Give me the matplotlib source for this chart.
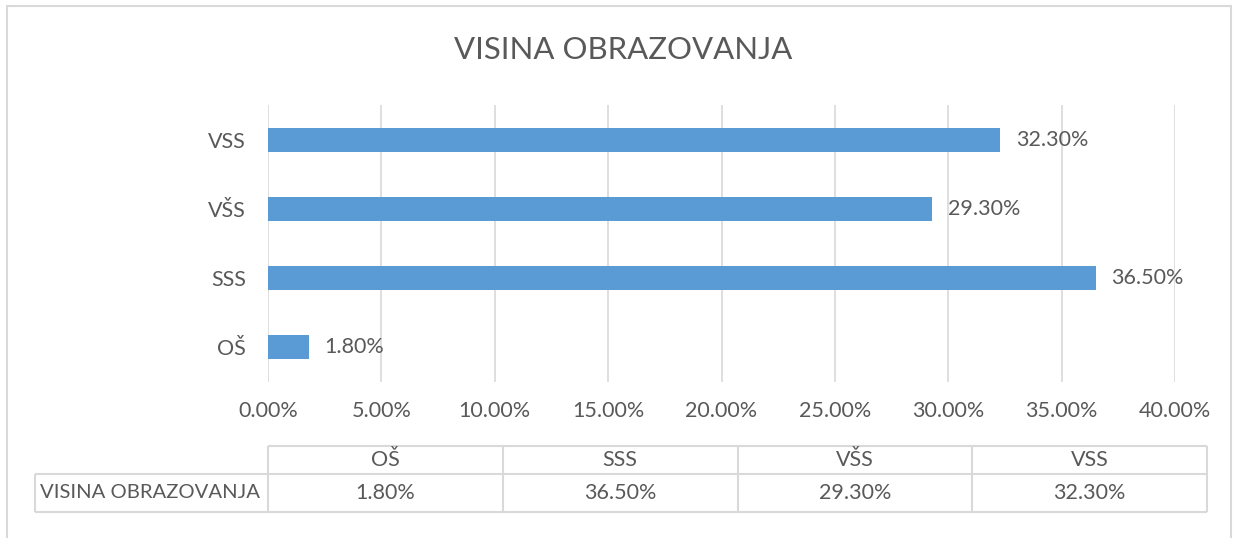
import matplotlib
matplotlib.use("Agg")
import matplotlib.pyplot as plt
from matplotlib.patches import Rectangle

plt.rcParams["font.family"] = ["Lato", "DejaVu Sans"]

categories = ["OŠ", "SSS", "VŠS", "VSS"]
values = [1.80, 36.50, 29.30, 32.30]
x_ticks = [0, 5, 10, 15, 20, 25, 30, 35, 40]
title = "VISINA OBRAZOVANJA"
row_label = "VISINA OBRAZOVANJA"

TEXT = "#595959"
GRID = "#d9d9d9"
BAR = "#5b9bd5"
FS = 15.5

W, H = 1237, 538
fig = plt.figure(figsize=(W / 100, H / 100), dpi=100)

# plot area in pixels: x 268..1175, y 105..382
ax = fig.add_axes([268 / W, 1 - 382 / H, (1175 - 268) / W, (382 - 105) / H])
ax.barh(range(len(categories)), values, height=0.35, color=BAR, zorder=3)
ax.set_xlim(0, 40)
ax.set_ylim(-0.5, 3.5)
ax.set_yticks(range(len(categories)))
ax.set_yticklabels(categories)
ax.set_xticks(x_ticks)
ax.set_xticklabels([f"{t:.2f}%" for t in x_ticks])
ax.tick_params(axis="both", length=0, colors=TEXT, labelsize=FS)
ax.tick_params(axis="y", pad=16)
ax.tick_params(axis="x", pad=14)
ax.grid(axis="x", color=GRID, linewidth=1.2, zorder=0)
for s in ax.spines.values():
    s.set_visible(False)

ax.bar_label(ax.containers[0], labels=[f"{v:.2f}%" for v in values],
             padding=11, color=TEXT, fontsize=FS)

fig.text(623 / W, 1 - 50 / H, title, ha="center", va="center",
         fontsize=22.4, color=TEXT)

# data table below the chart, drawn in pixel units
tax = fig.add_axes([0, 0, 1, 1])
tax.set_xlim(0, W)
tax.set_ylim(H, 0)
tax.axis("off")
x_lab, x0, x1 = 35, 268, 1207
y0, y1, y2 = 446, 474, 512
col_edges = [x0 + (x1 - x0) * i / len(categories) for i in range(len(categories) + 1)]
tax.hlines(y0, x0, x1, color=GRID, lw=1.5)
tax.hlines([y1, y2], x_lab, x1, color=GRID, lw=1.5)
tax.vlines(col_edges, y0, y2, color=GRID, lw=1.5)
tax.vlines(x_lab, y1, y2, color=GRID, lw=1.5)
for j, (c, v) in enumerate(zip(categories, values)):
    xc = (col_edges[j] + col_edges[j + 1]) / 2
    tax.text(xc, (y0 + y1) / 2, c, ha="center", va="center", color=TEXT, fontsize=FS)
    tax.text(xc, (y1 + y2) / 2, f"{v:.2f}%", ha="center", va="center",
             color=TEXT, fontsize=FS)
tax.text(x_lab + 5, (y1 + y2) / 2, row_label, ha="left", va="center",
         color=TEXT, fontsize=14.6)

fig.patches.append(Rectangle((7 / W, -0.1), (1231 - 7) / W, 1.1 - 6 / H,
                             transform=fig.transFigure, fill=False,
                             edgecolor=GRID, linewidth=1.5))

fig.savefig("out.png", dpi=100)
